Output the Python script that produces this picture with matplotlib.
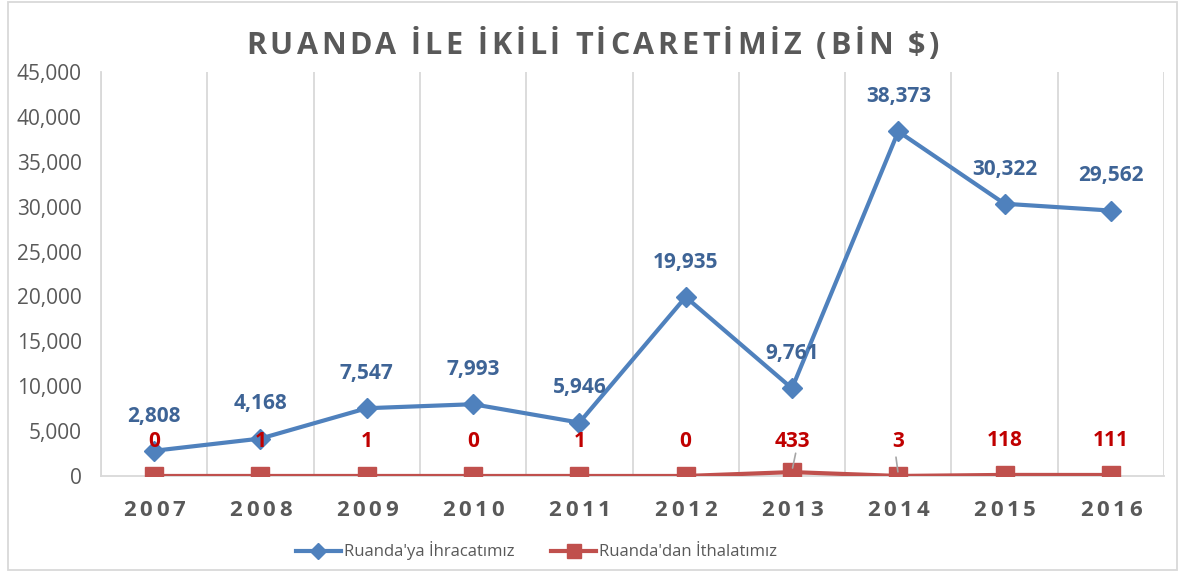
import matplotlib
matplotlib.use("Agg")
import matplotlib.pyplot as plt
from matplotlib.patches import Rectangle
from matplotlib.ticker import FuncFormatter
from matplotlib.transforms import IdentityTransform

years = ["2007", "2008", "2009", "2010", "2011", "2012", "2013", "2014", "2015", "2016"]
ihracat = [2808, 4168, 7547, 7993, 5946, 19935, 9761, 38373, 30322, 29562]
ithalat = [0, 1, 1, 0, 1, 0, 433, 3, 118, 111]
title = "RUANDA İLE İKİLİ TİCARETİMİZ (BİN $)"

grey = "#595959"
blue = "#4F81BD"
red = "#C0504D"

plt.rcParams["font.family"] = ["Open Sans", "DejaVu Sans"]

fig = plt.figure(figsize=(11.79, 5.78), dpi=100)
ax = fig.add_axes([0.0857, 0.1765, 0.9016, 0.699])
renderer = fig.canvas.get_renderer()


def text_width(s, **kw):
    t = fig.text(0, 0, s, **kw)
    w = t.get_window_extent(renderer).width
    t.remove()
    return w


def tracked(xc, y, s, spacing, **kw):
    # letter-spaced text, centred on pixel position (xc, y)
    ref = text_width("x", **kw)
    lefts = [text_width(s[:i] + "x", **kw) - ref + i * spacing for i in range(len(s))]
    total = text_width(s, **kw) + (len(s) - 1) * spacing
    x0 = xc - total / 2
    for ch, l in zip(s, lefts):
        fig.text(x0 + l, y, ch, ha="left", va="center", transform=IdentityTransform(), **kw)


x = list(range(len(years)))
ax.plot(x, ihracat, color=blue, lw=3, marker="D", ms=10, label="Ruanda'ya İhracatımız", zorder=3)
ax.plot(x, ithalat, color=red, lw=3, marker="s", ms=12.5, label="Ruanda'dan İthalatımız", zorder=3)

for i, v in enumerate(ihracat):
    ax.annotate(f"{v:,}", (i, v), xytext=(0, 25), textcoords="offset points",
                ha="center", va="center", fontsize=15, fontweight="bold", color="#3E6496")
for i, v in enumerate(ithalat):
    off = 22 if i == 6 else 25
    ax.annotate(f"{v:,}", (i, v), xytext=(0, off), textcoords="offset points",
                ha="center", va="center", fontsize=15, fontweight="bold", color="#C00000", zorder=4)
# leader lines for moved labels
for i, dx in ((6, 0.04), (7, -0.025)):
    v = ithalat[i]
    ax.annotate("", (i, v + 150), xytext=(i + dx, v + 2400),
                arrowprops=dict(arrowstyle="-", color="#A6A6A6", lw=1.2))

ax.set_xlim(-0.5, 9.5)
ax.set_ylim(0, 45000)
ax.set_yticks(range(0, 45001, 5000))
ax.yaxis.set_major_formatter(FuncFormatter(lambda v, p: f"{int(v):,}"))
ax.set_xticks(x)
ax.set_xticklabels([])
for t in ax.get_yticklabels():
    t.set_fontsize(15)
    t.set_color(grey)
ax.tick_params(axis="both", length=0)
ax.tick_params(axis="y", pad=14)

for b in [i - 0.5 for i in range(len(years) + 1)]:
    ax.axvline(b, color="#D9D9D9", lw=1.3, zorder=1)
for s in ["top", "right"]:
    ax.spines[s].set_visible(False)
for s in ["left", "bottom"]:
    ax.spines[s].set_color("#D9D9D9")
    ax.spines[s].set_linewidth(1.3)

# x category labels, letter-spaced
fig_h = fig.bbox.height
for i, yr in enumerate(years):
    px = ax.transData.transform((i, 0))[0]
    tracked(px, fig_h - 510, yr, 3.8, fontsize=16, fontweight="bold", color=grey)

tracked(fig.bbox.width * 0.5 + 3, fig_h - 46, title, 3.6, fontsize=22, fontweight="bold", color=grey)

leg = ax.legend(loc="center", bbox_to_anchor=(0.455, 0.047), bbox_transform=fig.transFigure,
                ncol=2, frameon=False, fontsize=12, handlelength=2.7, columnspacing=2.2,
                handletextpad=0.2, markerscale=0.85)
for t in leg.get_texts():
    t.set_color(grey)

fig.patches.append(Rectangle((8 / 1179, 1 - 570 / 578), 1169 / 1179, 568 / 578,
                             transform=fig.transFigure, fill=False, edgecolor="#D9D9D9", lw=1.3))

fig.savefig("out.png", dpi=100)
